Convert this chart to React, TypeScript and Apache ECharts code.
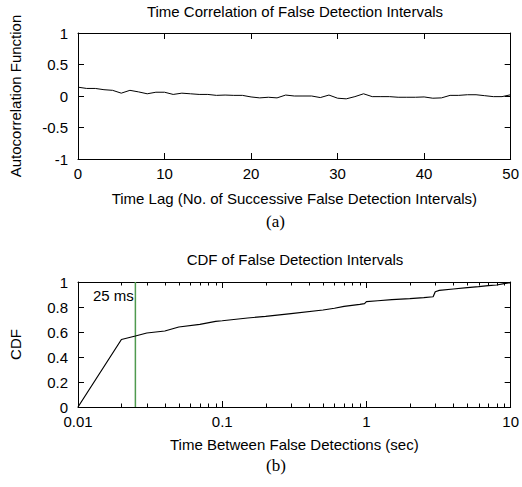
import React, { useEffect, useRef } from "react";
import * as echarts from "echarts";

const acfLags = [0,1,2,3,4,5,6,7,8,9,10,11,12,13,14,15,16,17,18,19,20,21,22,23,24,25,26,27,28,29,30,31,32,33,34,35,36,37,38,39,40,41,42,43,44,45,46,47,48,49,50];
const acfValues = [0.14,0.12,0.12,0.1,0.09,0.045,0.09,0.065,0.035,0.06,0.06,0.025,0.045,0.035,0.025,0.025,0.01,0.015,0.01,0.01,-0.015,-0.03,-0.02,-0.03,0.015,0.0,0.0,0.0,-0.025,0.015,-0.035,-0.045,-0.01,0.035,-0.01,-0.01,-0.01,-0.02,-0.02,-0.02,-0.015,-0.035,-0.03,0.01,0.01,0.02,0.02,0.005,-0.01,-0.01,0.02];

const cdfX = [0.01,0.02,0.025,0.03,0.04,0.05,0.07,0.09,0.1,0.15,0.2,0.3,0.5,0.6,0.7,0.9,0.97,1.0,1.2,1.5,2,2.5,2.9,3.0,3.2,4,5,6,7,8,9,10];
const cdfY = [0,0.54,0.568,0.592,0.608,0.64,0.661,0.685,0.69,0.712,0.725,0.747,0.776,0.79,0.805,0.821,0.827,0.843,0.85,0.859,0.867,0.875,0.882,0.922,0.933,0.944,0.955,0.963,0.971,0.976,0.987,0.995];

const minorTicksX = [0.02,0.03,0.04,0.05,0.06,0.07,0.08,0.09,0.2,0.3,0.4,0.5,0.6,0.7,0.8,0.9,2,3,4,5,6,7,8,9];
const markerX = 0.025;
const markerLabel = "25 ms";

const FONT = "Liberation Sans, Arial, sans-serif";

export default function App() {
  const ref = useRef<HTMLDivElement>(null);
  useEffect(() => {
    if (!ref.current) return;
    const chart = echarts.init(ref.current, null, { renderer: "svg" });
    const axisLine = { show: true, onZero: false, lineStyle: { color: "#000", width: 1 } };
    const tick = { show: true, inside: true, length: 6, lineStyle: { color: "#000" } };
    const lbl = { color: "#000", fontFamily: FONT, fontSize: 15 };
    const nameStyle = { color: "#000", fontFamily: FONT, fontSize: 15 };
    chart.setOption({
      animation: false,
      textStyle: { fontFamily: FONT },
      title: [
        { text: "Time Correlation of False Detection Intervals", left: 295, top: 4, padding: 0, textAlign: "center", textStyle: { ...nameStyle, fontWeight: "normal" } },
        { text: "CDF of False Detection Intervals", left: 295, top: 252, padding: 0, textAlign: "center", textStyle: { ...nameStyle, fontWeight: "normal" } },
      ],
      grid: [
        { left: 77, right: 9, top: 33, height: 126 },
        { left: 77, right: 10, top: 282, height: 125 },
      ],
      xAxis: [
        { type: "value", gridIndex: 0, min: 0, max: 50, interval: 10, axisLine, axisTick: tick, axisLabel: { ...lbl, margin: 7 }, splitLine: { show: false },
          name: "Time Lag (No. of Successive False Detection Intervals)", nameLocation: "middle", nameGap: 32, nameTextStyle: nameStyle },
        { type: "value", gridIndex: 0, position: "top", min: 0, max: 50, interval: 10, axisLine, axisTick: tick, axisLabel: { show: false }, splitLine: { show: false } },
        { type: "log", logBase: 10, gridIndex: 1, min: 0.01, max: 10, axisLine, axisTick: tick, axisLabel: { ...lbl, margin: 7, formatter: (v: number) => String(v) }, splitLine: { show: false },
          name: "Time Between False Detections (sec)", nameLocation: "middle", nameGap: 30, nameTextStyle: nameStyle },
        { type: "log", logBase: 10, gridIndex: 1, position: "top", min: 0.01, max: 10, axisLine, axisTick: tick, axisLabel: { show: false }, splitLine: { show: false } },
      ],
      yAxis: [
        { type: "value", gridIndex: 0, min: -1, max: 1, interval: 0.5, axisLine, axisTick: tick, axisLabel: { ...lbl, margin: 10 }, splitLine: { show: false },
          name: "Autocorrelation Function", nameLocation: "middle", nameGap: 55, nameTextStyle: nameStyle },
        { type: "value", gridIndex: 0, position: "right", min: -1, max: 1, interval: 0.5, axisLine, axisTick: tick, axisLabel: { show: false }, splitLine: { show: false } },
        { type: "value", gridIndex: 1, min: 0, max: 1, interval: 0.2, axisLine, axisTick: tick, axisLabel: { ...lbl, margin: 10 }, splitLine: { show: false },
          name: "CDF", nameLocation: "middle", nameGap: 55, nameTextStyle: nameStyle },
        { type: "value", gridIndex: 1, position: "right", min: 0, max: 1, interval: 0.2, axisLine, axisTick: tick, axisLabel: { show: false }, splitLine: { show: false } },
      ],
      series: [
        { type: "line", xAxisIndex: 0, yAxisIndex: 0, data: acfLags.map((l, i) => [l, acfValues[i]]), showSymbol: false, lineStyle: { color: "#000", width: 1 } },
        { type: "line", xAxisIndex: 2, yAxisIndex: 2, data: [[markerX, 0], [markerX, 1]], showSymbol: false, lineStyle: { color: "#4f9a4f", width: 1.5 },
          endLabel: { show: false } },
        { type: "line", xAxisIndex: 2, yAxisIndex: 2, data: cdfX.map((x, i) => [x, cdfY[i]]), showSymbol: false, lineStyle: { color: "#000", width: 1.2 } },
        { type: "custom", xAxisIndex: 2, yAxisIndex: 2, clip: false, silent: true, encode: { x: 0, y: 1 }, data: minorTicksX.map((x) => [x, 0]),
          renderItem: (params: any, api: any) => {
            const x = api.value(0);
            const b = api.coord([x, 0]);
            const t = api.coord([x, 1]);
            const px = Math.round(b[0]) + 0.5;
            const style = { stroke: "#000", lineWidth: 1 };
            return { type: "group", children: [
              { type: "line", shape: { x1: px, y1: b[1], x2: px, y2: b[1] - 3.5 }, style },
              { type: "line", shape: { x1: px, y1: t[1], x2: px, y2: t[1] + 3.5 }, style },
            ] };
          } },
      ],
      graphic: [
        { type: "text", left: 93, top: 288, style: { text: markerLabel, fill: "#000", font: "15px Liberation Sans, Arial, sans-serif" } },
        { type: "text", left: 266, top: 213, style: { text: "(a)", fill: "#000", font: "17px Liberation Serif, Times New Roman, serif" } },
        { type: "text", left: 266, top: 457, style: { text: "(b)", fill: "#000", font: "17px Liberation Serif, Times New Roman, serif" } },
      ],
    });
    return () => chart.dispose();
  }, []);
  return <div ref={ref} style={{ position: "fixed", left: 0, top: 0, width: 522, height: 487, background: "#fff" }} />;
}
